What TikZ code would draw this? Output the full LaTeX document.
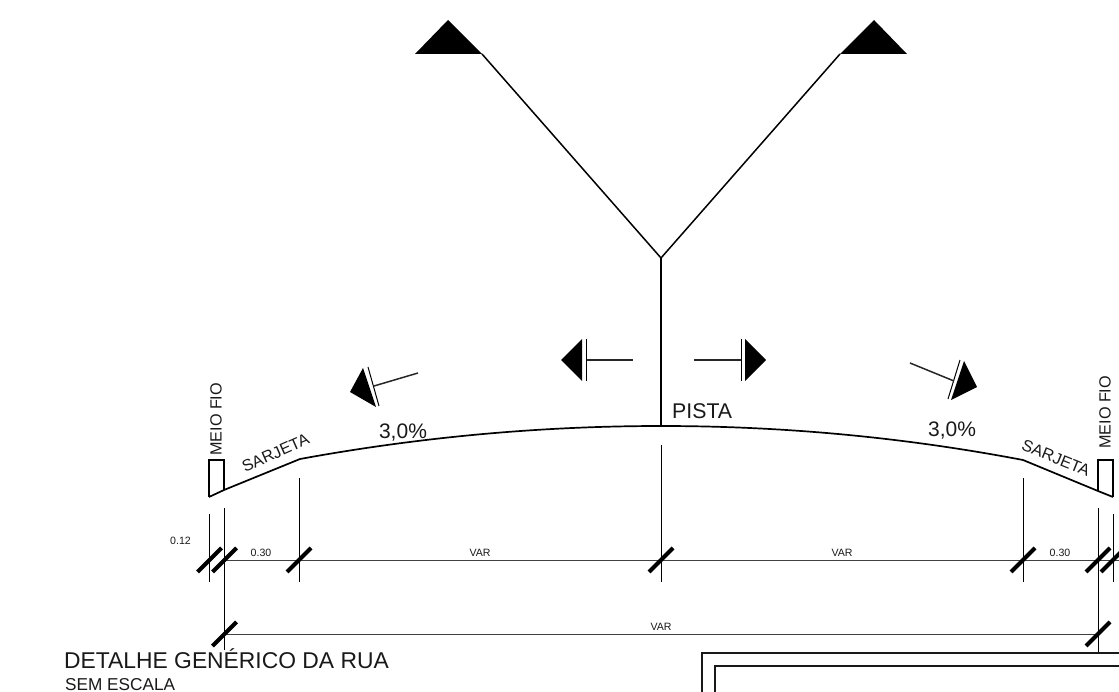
\documentclass[tikz,border=0pt]{standalone}
\usepackage{fontspec}
\setmainfont{Liberation Sans}
\tikzset{
 ln/.style={line width=1pt,black,line join=miter},
 dimline/.style={line width=1pt,black!75},
 lead/.style={line width=1.5pt,black!85},
 crv/.style={line width=1.7pt,black,line join=round},
 wid/.style={line width=2pt,black!90},
 tick/.style={line width=4pt,black},
 head/.style={fill=black,draw=none},
 lbl/.style={inner sep=0pt,black!90},
 big/.style={lbl,font=\fontsize{21}{21}\selectfont},
 small/.style={lbl,font=\fontsize{10.6}{10.6}\selectfont},
 rot/.style={lbl,font=\fontsize{16.2}{16.2}\selectfont},
}
\begin{document}
\begin{tikzpicture}[x=1pt,y=-1pt]
\useasboundingbox (0,0) rectangle (1119,692);
\clip (0,0) rectangle (1119,692);
% coordinates
\coordinate (yc) at (661,258);
\coordinate (crown) at (661,426);
\coordinate (ltip) at (482,54);
\coordinate (rtip) at (840,54);
\coordinate (gl) at (300,459);
\coordinate (gr) at (1023,460);
\coordinate (ml1) at (209,497);
\coordinate (ml2) at (224,490);
\coordinate (mr1) at (1098,491);
\coordinate (mr2) at (1113,497);
% Y symbol
\draw[crv,line width=1.5pt] (ltip) -- (yc) -- (rtip);
\draw[crv] (yc) -- (crown);
\fill[head] (415,54) -- (448,20) -- (ltip) -- cycle;
\fill[head] (rtip) -- (874,20) -- (907,54) -- cycle;
% horizontal arrows
\fill[head] (561,360) -- (582,339) -- (582,381) -- cycle;
\draw[ln] (586.5,339) -- (586.5,381);
\draw[lead] (586.5,360) -- (633,360);
\fill[head] (766,360) -- (745,339) -- (745,381) -- cycle;
\draw[ln] (741,339) -- (741,381);
\draw[lead] (694,360) -- (741,360);
% slanted arrows
\fill[head] (350,392) -- (363,368) -- (376,407) -- cycle;
\draw[ln] (368,367) -- (379,406);
\draw[lead] (374,386) -- (418,373);
\fill[head] (964,361) -- (977,387) -- (951,400) -- cycle;
\draw[ln] (960,360) -- (948,399);
\draw[lead] (910,363) -- (954,381);
% road profile
\draw[crv] (ml1) -- (ml2) -- (gl) .. controls (420.3,437) and (540.8,426) .. (crown)
  .. controls (781.7,426) and (902.3,437) .. (gr) -- (mr1) -- (mr2);
\draw[ln,line width=1.5pt] (ml1) -- (209,460) -- (224,460) -- (ml2);
\draw[ln,line width=1.5pt] (mr1) -- (1098,460) -- (1113,460) -- (mr2);
% extension lines
\draw[ln] (209,514) -- (209,582);
\draw[ln] (224,508) -- (224,650);
\draw[ln] (299,478) -- (299,582);
\draw[ln] (661,445) -- (661,582);
\draw[ln] (1023,478) -- (1023,582);
\draw[ln] (1098,508) -- (1098,653);
\draw[ln] (1113,514) -- (1113,582);
% dimension lines
\draw[dimline] (224,560) -- (1119,560);
\draw[dimline] (224,634) -- (1098,634);
% ticks
\foreach \px/\py in {209.5/560,224.5/560,299/560,661/560,1023/560,1098/560,1113/560,224.5/634,1098/634}
  \draw[tick] (\px-12,\py+12) -- (\px+12,\py-12);
% frame
\draw[wid] (701.5,692) -- (701.5,653) -- (1119,653);
\draw[wid] (715,692) -- (715,666) -- (1119,666);
% labels
\node[rot,rotate=90,anchor=west] (mf1) at (216,456) {MEIO FIO};
\node[rot,rotate=90,anchor=west] (mf2) at (1105,449) {MEIO FIO};
\node[rot,rotate=24] (s1) at (275.5,453) {SARJETA};
\node[rot,rotate=-22] (s2) at (1056,458) {SARJETA};
\node[big,anchor=base] (p1) at (403,438) {3,0\%};
\node[big,anchor=base] (p2) at (952,436) {3,0\%};
\node[lbl,font=\fontsize{21.3}{21.3}\selectfont,anchor=base west] (pista) at (672,418) {PISTA};
\node[small,anchor=base] (d1) at (180.5,544) {0.12};
\node[small,anchor=base] (d2) at (261,556.5) {0.30};
\node[small,anchor=base] (d3) at (480,556) {VAR};
\node[small,anchor=base] (d4) at (842,556) {VAR};
\node[small,anchor=base] (d5) at (1060,556.5) {0.30};
\node[small,anchor=base] (d6) at (661,630) {VAR};
\node[lbl,anchor=base west,font=\fontsize{22.85}{22.85}\selectfont] (t1) at (64,668) {DETALHE GENÉRICO DA RUA};
\node[lbl,anchor=base west,font=\fontsize{17.2}{17.2}\selectfont] (t2) at (65,690) {SEM ESCALA};
\end{tikzpicture}
\end{document}
